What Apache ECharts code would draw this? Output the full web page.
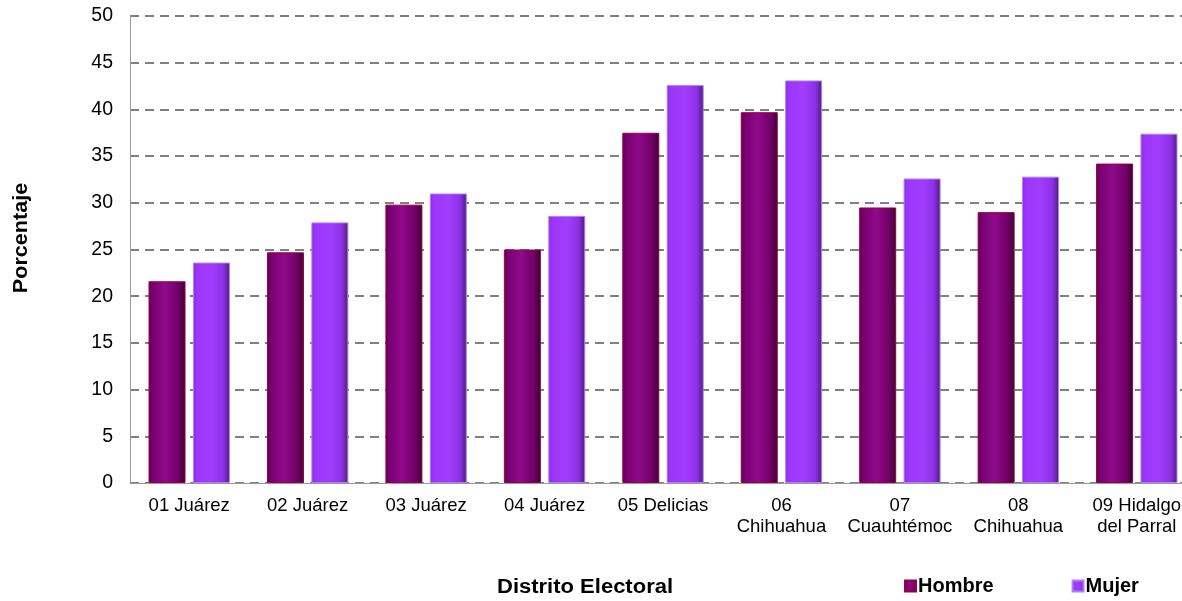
<!DOCTYPE html>
<html>
<head>
<meta charset="utf-8">
<script src="https://cdn.jsdelivr.net/npm/echarts@6/dist/echarts.min.js"></script>
<style>
html,body{margin:0;padding:0;background:#fff;}
#chart{width:1182px;height:601px;}
</style>
</head>
<body>
<div id="chart"></div>
<script>
const categories = ['01 Juárez','02 Juárez','03 Juárez','04 Juárez','05 Delicias','06\nChihuahua','07\nCuauhtémoc','08\nChihuahua','09 Hidalgo\ndel Parral'];
const hombre = [21.6, 24.7, 29.8, 25.0, 37.5, 39.7, 29.5, 29.0, 34.2];
const mujer  = [23.6, 27.9, 31.0, 28.6, 42.6, 43.1, 32.6, 32.8, 37.4];
const yTicks = {min: 0, max: 50, interval: 5};

const chart = echarts.init(document.getElementById('chart'));
const grad = (stops) => ({type:'linear', x:0, y:0, x2:1, y2:0, colorStops: stops.map(s=>({offset:s[0], color:s[1]}))});
const hombreColor = grad([[0,'#5a0050'],[0.12,'#7a0072'],[0.45,'#8f0a8b'],[0.8,'#720068'],[1,'#3a0032']]);
const mujerColor = grad([[0,'#8a2ee6'],[0.12,'#9c36fa'],[0.5,'#a23dff'],[0.82,'#8c30e6'],[1,'#4a2078']]);

chart.setOption({
  animation: false,
  textStyle: {fontFamily: 'Liberation Sans, Arial, sans-serif'},
  grid: {left: 130, width: 1066, top: 16, bottom: 118, containLabel: false, outerBoundsMode: 'none'},
  legend: {
    left: 899, top: 571, itemWidth: 11, itemHeight: 11, itemGap: 78,
    icon: 'rect',
    textStyle: {fontSize: 20, fontWeight: 'bold', color: '#000', padding: [0,0,0,-3]},
    data: ['Hombre','Mujer']
  },
  xAxis: {
    type: 'category', data: categories,
    axisLine: {lineStyle: {color: '#999', width: 1}},
    axisTick: {show: false},
    axisLabel: {color: '#000', fontSize: 18.5, margin: 12, lineHeight: 21, interval: 0}
  },
  yAxis: {
    type: 'value', min: yTicks.min, max: yTicks.max, interval: yTicks.interval,
    axisLine: {show: true, lineStyle: {color: '#999'}},
    axisTick: {show: false},
    axisLabel: {color: '#000', fontSize: 19.5, margin: 17},
    splitLine: {lineStyle: {color: '#808080', type: [9,6], width: 2}}
  },
  graphic: [
    {type: 'text', x: 497, y: 577, scaleX: 1.1, style: {text: 'Distrito Electoral', font: 'bold 20px Liberation Sans, Arial', fill: '#000'}},
    {type: 'text', x: 21, y: 238, rotation: Math.PI/2, scaleX: 1.08, style: {text: 'Porcentaje', font: 'bold 20px Liberation Sans, Arial', fill: '#000', align: 'center', verticalAlign: 'middle'}}
  ],
  series: [
    {name: 'Hombre', type: 'bar', data: hombre, barWidth: 37, barGap: '20%',
     itemStyle: {color: hombreColor, borderColor: '#9a0040', borderWidth: 1}},
    {name: 'Mujer', type: 'bar', data: mujer, barWidth: 37,
     itemStyle: {color: mujerColor, borderColor: '#b080f0', borderWidth: 1}}
  ]
});
</script>
</body>
</html>
